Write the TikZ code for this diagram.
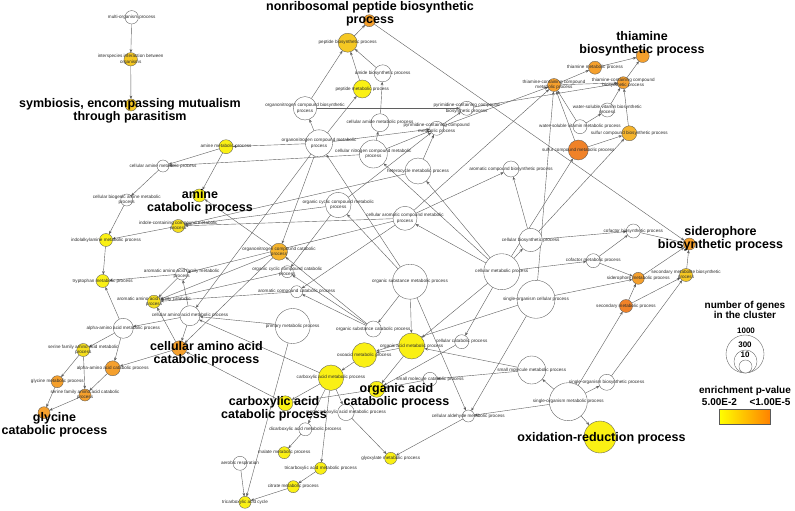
\documentclass[tikz,border=0pt]{standalone}
\usepackage{fontspec}
\setmainfont{Liberation Sans}
\usetikzlibrary{arrows.meta,backgrounds}
\definecolor{cY}{RGB}{250,240,20}
\definecolor{cYG}{RGB}{245,222,30}
\definecolor{cG}{RGB}{245,200,35}
\definecolor{cGO}{RGB}{245,180,45}
\definecolor{cO}{RGB}{245,160,45}
\definecolor{cD}{RGB}{240,130,40}
\definecolor{cEdge}{RGB}{95,95,95}
\definecolor{cBorder}{RGB}{90,90,90}
\definecolor{cText}{RGB}{45,45,45}
\definecolor{cBarR}{RGB}{255,128,0}
\tikzset{
  gocirc/.style={circle,draw=cBorder,line width=0.35pt,inner sep=0pt,outer sep=0pt},
  smlab/.style={font=\fontsize{4.6}{5.3}\selectfont,text=cText,align=center,inner sep=0pt},
  biglab/.style={font=\fontsize{12.5}{13}\selectfont\bfseries,align=center,inner sep=0pt,text=black},
  leglab/.style={font=\fontsize{10}{10}\selectfont\bfseries,align=center,inner sep=0pt,text=black},
  legnum/.style={font=\fontsize{8}{8}\selectfont\bfseries,inner sep=0pt,text=black},
  goedge/.style={draw=cEdge,line width=0.4pt,-{Stealth[length=3.4pt,width=2.7pt]}},
}
\newcommand{\gon}[6]{\node[gocirc,fill=#5,minimum size=2*#4pt] (#1) at (#2,#3) {};
  \node[smlab] (#1-t) at (#2,#3) {#6};}
\newcommand{\gonb}[5]{\node[gocirc,fill=#5,minimum size=2*#4pt] (#1) at (#2,#3) {};}
\begin{document}
\begin{tikzpicture}[x=1pt,y=-1pt]
\useasboundingbox (0,0) rectangle (795,511);
\begin{scope}[on background layer]
\fill[white] (0,0) rectangle (795,511);
\end{scope}
% nodes
\gon{multi}{131.7}{17.3}{6.7}{white}{multi-organism process}
\gon{inter}{130.7}{59.3}{6.7}{cG}{interspecies interaction between\\organisms}
\gonb{symb}{131}{105}{6}{cG}
\gonb{nrps}{369.3}{20.7}{6}{cO}
\gon{peptbio}{347.7}{42.7}{9.5}{cG}{peptide biosynthetic process}
\gon{amidebio}{382.7}{73.3}{8.5}{white}{amide biosynthetic process}
\gon{peptmet}{362.3}{89}{9}{cY}{peptide metabolic process}
\gon{onbio}{305}{108.3}{11.7}{white}{organonitrogen compound biosynthetic\\process}
\gon{camidemet}{380}{122.7}{9}{white}{cellular amide metabolic process}
\gon{onmet}{319}{143.3}{13.5}{white}{organonitrogen compound metabolic\\process}
\gon{cnmet}{373.3}{154}{14}{white}{cellular nitrogen compound metabolic\\process}
\gon{aminemet}{226}{146.7}{7}{cY}{amine metabolic process}
\gon{pyrbio}{466.7}{108.3}{7}{white}{pyrimidine-containing compound\\biosynthetic process}
\gon{pyrmet}{436.7}{128.3}{7}{white}{pyrimidine-containing compound\\metabolic process}
\gon{thcmet}{554}{85}{6.5}{cO}{thiamine-containing compound\\metabolic process}
\gon{thmet}{595}{67.7}{6.5}{cO}{thiamine metabolic process}
\gonb{thbio}{642.7}{56}{6.5}{cO}
\gon{thcbio}{623.3}{82.7}{6}{cO}{thiamine-containing compound\\biosynthetic process}
\gon{wsvbio}{607.3}{110}{7}{white}{water-soluble vitamin biosynthetic\\process}
\gon{wsvmet}{580}{126.7}{7}{white}{water-soluble vitamin metabolic process}
\gon{sulfbio}{629.3}{133.3}{7.5}{cGO}{sulfur compound biosynthetic process}
\gon{sulfmet}{578.3}{150}{10}{cD}{sulfur compound metabolic process}
\gon{arobio}{511}{169}{8}{white}{aromatic compound biosynthetic process}
\gon{hetmet}{418}{171}{13}{white}{heterocycle metabolic process}
\gon{camine}{163}{166}{6}{white}{cellular amine metabolic process}
\gon{cbiogen}{126.7}{200}{6}{white}{cellular biogenic amine metabolic\\process}
\gonb{aminecat}{199.3}{195.5}{6.5}{cY}
\gon{indole}{178.3}{226}{6.5}{cYG}{indole-containing compound metabolic\\process}
\gon{indolalk}{106}{240}{6.5}{cY}{indolalkylamine metabolic process}
\gon{trp}{102.7}{281}{6.5}{cY}{tryptophan metabolic process}
\gon{aafmet}{181.7}{274}{6}{white}{aromatic amino acid family metabolic\\process}
\gon{aafcat}{154}{301.7}{6.5}{cYG}{aromatic amino acid family catabolic\\process}
\gon{caamet}{190}{315.7}{10}{white}{cellular amino acid metabolic process}
\gon{aaamet}{123.3}{328.3}{10}{white}{alpha-amino acid metabolic process}
\gon{serfam}{83.3}{350}{6.5}{cYG}{serine family amino acid metabolic\\process}
\gon{aaacat}{112.7}{368.3}{7.5}{cO}{alpha-amino acid catabolic process}
\gon{glymet}{57.3}{381.7}{6}{cO}{glycine metabolic process}
\gon{sercat}{85}{395}{6}{cO}{serine family amino acid catabolic\\process}
\gonb{glycat}{44}{412.7}{6}{cO}
\gonb{caacat}{179.3}{348.3}{7.5}{cO}
\gon{oncat}{279}{251.7}{8.5}{cGO}{organonitrogen compound catabolic\\process}
\gon{occat}{287.3}{271.7}{6}{white}{organic cyclic compound catabolic\\process}
\gon{arocat}{296.7}{291.7}{6}{white}{aromatic compound catabolic process}
\gon{ocmet}{338.3}{205}{12.7}{white}{organic cyclic compound metabolic\\process}
\gon{cellaro}{405}{218.3}{12}{white}{cellular aromatic compound metabolic\\process}
\gon{primary}{292.7}{326}{17.5}{white}{primary metabolic process}
\gon{oscat}{373.3}{329}{8}{white}{organic substance catabolic process}
\gon{osmet}{410}{281.7}{17.5}{white}{organic substance metabolic process}
\gon{cellmet}{501.7}{271.7}{18}{white}{cellular metabolic process}
\gon{cellbio}{530.7}{240}{11.7}{white}{cellular biosynthetic process}
\gon{socell}{536}{299.3}{19}{white}{single-organism cellular process}
\gon{cofmet}{593.3}{260.7}{7}{white}{cofactor metabolic process}
\gon{cofbio}{633.3}{231}{7}{white}{cofactor biosynthetic process}
\gonb{sidbio}{689.3}{244}{6}{cO}
\gon{sidmet}{638.3}{278.3}{6}{cO}{siderophore metabolic process}
\gon{secbio}{686}{275}{6.5}{cG}{secondary metabolite biosynthetic\\process}
\gon{secmet}{626}{306}{6.5}{cD}{secondary metabolic process}
\gon{smmet}{531.7}{370}{14}{white}{small molecule metabolic process}
\gon{smcat}{430}{379.3}{7}{white}{small molecule catabolic process}
\gon{somet}{568.3}{401.7}{19}{white}{single-organism metabolic process}
\gon{sobio}{606.7}{382.3}{8}{white}{single-organism biosynthetic process}
\gonb{oxred}{600}{437}{16}{cY}
\gon{cellald}{468.3}{416}{6}{white}{cellular aldehyde metabolic process}
\gon{cellcat}{461.7}{341.7}{7}{white}{cellular catabolic process}
\gon{oxoacid}{364.3}{355}{12.3}{cY}{oxoacid metabolic process}
\gon{oamet}{411.7}{346}{13}{cY}{organic acid metabolic process}
\gon{cacmet}{331}{377.7}{12.7}{cY}{carboxylic acid metabolic process}
\gonb{oacat}{376.7}{389.3}{8}{cY}
\gonb{cacat}{285.3}{403.3}{7.5}{cY}
\gon{monocarb}{346}{412.3}{8.3}{white}{monocarboxylic acid metabolic process}
\gon{dicarb}{305.3}{429.3}{6.5}{white}{dicarboxylic acid metabolic process}
\gon{malate}{284.3}{452.7}{6}{cY}{malate metabolic process}
\gon{glyox}{390.7}{458.3}{6}{cY}{glyoxylate metabolic process}
\gon{tricarb}{320.7}{468.3}{6}{cY}{tricarboxylic acid metabolic process}
\gon{citrate}{293.3}{486.7}{6}{cY}{citrate metabolic process}
\gon{tca}{245}{502.3}{6}{cY}{tricarboxylic acid cycle}
\gon{aerobic}{240}{463.3}{7}{white}{aerobic respiration}
% edges
\begin{scope}[on background layer]
\foreach \a/\b in {multi/inter, inter/symb,
 peptbio/nrps, amidebio/peptbio, peptmet/peptbio, onbio/peptbio,
 camidemet/amidebio, onmet/peptmet, onmet/onbio, onmet/aminemet, cnmet/camidemet,
 onbio/pyrbio, pyrmet/pyrbio, onmet/pyrmet, cnmet/pyrmet, ocmet/pyrmet, hetmet/pyrmet,
 pyrmet/thcmet, pyrbio/thcbio, thcmet/thmet, thcmet/thcbio, thmet/thbio, thcbio/thbio,
 wsvbio/thcbio, wsvmet/wsvbio, wsvmet/thcmet, sulfbio/thcbio, sulfmet/thcmet, sulfmet/sulfbio,
 cellbio/sulfbio, cellmet/sulfmet, socell/thcmet, cellaro/thcmet,
 nrps/sidbio,
 cellbio/arobio, cellaro/arobio, cellmet/cellbio, cellmet/hetmet, cellmet/cellaro, cellmet/cnmet,
 cellmet/cofmet, cellbio/cofbio, cofmet/cofbio, cofbio/sidbio, cofmet/sidmet, socell/sidmet,
 sidmet/sidbio, secbio/sidbio, secmet/sidmet, secmet/secbio, sobio/secbio, somet/secmet,
 somet/sobio, somet/smmet, somet/cellald, somet/oxred, smmet/smcat, smmet/oamet,
 osmet/cellald, socell/cellald, cellald/glyox, cellmet/cellcat, cellmet/oamet, socell/oxoacid,
 cellcat/oacat, smcat/oacat,
 oamet/oxoacid, oxoacid/cacmet, oamet/oacat, cacmet/cacat, oacat/cacat, cacmet/monocarb,
 cacmet/dicarb, cacmet/tricarb, monocarb/glyox, dicarb/malate, tricarb/citrate, citrate/tca,
 aerobic/tca, primary/tca, cacat/caacat, cacmet/caamet,
 osmet/oamet, osmet/oscat, osmet/ocmet, osmet/onmet, primary/caamet,
 ocmet/occat, cellaro/arocat, oscat/occat, oscat/arocat, oscat/oncat, onmet/oncat,
 oncat/aminecat, aminemet/aminecat, oncat/caacat, onmet/caamet,
 ocmet/indole, cellaro/indole, hetmet/indole, cellaro/aafmet,
 arocat/aafcat, occat/aafcat, oncat/aafcat, caacat/aafcat, aafmet/aafcat,
 aminemet/camine, cnmet/camine, camine/cbiogen, cbiogen/indolalk, indole/indolalk,
 indolalk/trp, aafmet/trp, aaamet/trp, caamet/aafmet, caamet/aaamet, caamet/caacat,
 aaamet/serfam, aaamet/aaacat, serfam/glymet, serfam/sercat, aaacat/sercat,
 glymet/glycat, sercat/glycat, caacat/aaacat}
 \draw[goedge] (\a) -- (\b);
\end{scope}
% big labels
\node[biglab] (symb-big) at (130,110.5) {symbiosis, encompassing mutualism\\through parasitism};
\node[biglab] (nrps-big) at (370,13.5) {nonribosomal peptide biosynthetic\\process};
\node[biglab] (thbio-big) at (642,43.5) {thiamine\\biosynthetic process};
\node[biglab] (aminecat-big) at (200,201.5) {amine\\catabolic process};
\node[biglab] (sidbio-big) at (720.5,239) {siderophore\\biosynthetic process};
\node[biglab] (glycat-big) at (54.5,425) {glycine\\catabolic process};
\node[biglab] (caacat-big) at (206.5,353.5) {cellular amino acid\\catabolic process};
\node[biglab] (cacat-big) at (274,409) {carboxylic acid\\catabolic process};
\node[biglab] (oacat-big) at (396.5,396) {organic acid\\catabolic process};
\node[biglab] (oxred-big) at (601.5,438) {oxidation-reduction process};
% legend
\node[leglab] (leg-title) at (745,309.5) {number of genes\\in the cluster};
\node[gocirc,fill=white,minimum size=38pt] (leg-c1) at (745,354) {};
\node[gocirc,fill=white,minimum size=23pt] (leg-c2) at (745.5,361.5) {};
\node[gocirc,fill=white,minimum size=13pt] (leg-c3) at (745.5,366.5) {};
\node[legnum] (leg-n1) at (746,331) {1000};
\node[legnum] (leg-n2) at (745,345) {300};
\node[legnum] (leg-n3) at (745,355) {10};
\node[leglab] (leg-p) at (745,391) {enrichment p-value};
\node[leglab] (leg-lo) at (719.5,402.3) {5.00E-2};
\node[leglab] (leg-hi) at (770,402.3) {<1.00E-5};
\node[draw=cBorder,line width=0.6pt,minimum width=51.4pt,minimum height=14.7pt,inner sep=0pt,
  left color=yellow,right color=cBarR] (leg-bar) at (745,416.7) {};
\end{tikzpicture}
\end{document}
